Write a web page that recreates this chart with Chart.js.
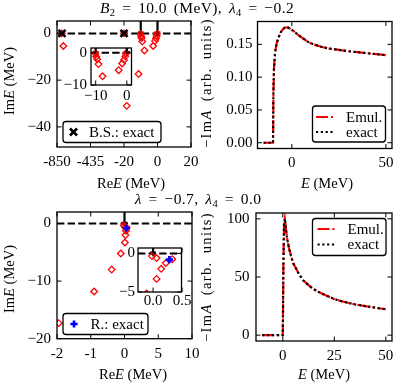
<!DOCTYPE html>
<html><head><meta charset="utf-8">
<script src="https://cdn.jsdelivr.net/npm/chart.js@4.4.1/dist/chart.umd.min.js"></script>
<style>
html,body{margin:0;padding:0;background:#fff;}
#fig{position:relative;width:396px;height:384px;overflow:hidden;font-family:"Liberation Serif",serif;color:#000;}
#fig canvas{position:absolute;left:0;top:0;}
.t{position:absolute;white-space:nowrap;font-size:14.5px;line-height:1;}
.ttl{font-size:15.5px;letter-spacing:0.4px;word-spacing:2.5px;}
.wide{letter-spacing:1.4px;word-spacing:3px;}
.rot{transform:translate(-50%,-50%) rotate(-90deg);}
.c{transform:translate(-50%,-50%);}
.sb{font-size:10.5px;position:relative;top:3px;}
</style></head><body>
<div id="fig">
<canvas id="cTL" width="396" height="384"></canvas>
<canvas id="cTLi" width="396" height="384"></canvas>
<canvas id="cTR" width="396" height="384"></canvas>
<canvas id="cBL" width="396" height="384"></canvas>
<canvas id="cBLi" width="396" height="384"></canvas>
<canvas id="cBR" width="396" height="384"></canvas>
<div class="t c ttl" style="left:197px;top:8px"><i>B</i><span class="sb">2</span> = 10.0 (MeV), <i>λ</i><span class="sb">4</span> = −0.2</div>
<div class="t c ttl" style="left:198px;top:199px"><i>λ</i> = −0.7, <i>λ</i><span class="sb">4</span> = 0.0</div>
<div class="t rot" style="left:9px;top:81px">Im<i>E</i> (MeV)</div>
<div class="t rot" style="left:9px;top:279px">Im<i>E</i> (MeV)</div>
<div class="t rot wide" style="left:206px;top:83px">−Im<i>A</i> (arb. units)</div>
<div class="t rot wide" style="left:206px;top:277px">−Im<i>A</i> (arb. units)</div>
<div class="t c" style="left:131px;top:183px">Re<i>E</i> (MeV)</div>
<div class="t c" style="left:133px;top:374px">Re<i>E</i> (MeV)</div>
<div class="t c" style="left:327px;top:183px"><i>E</i> (MeV)</div>
<div class="t c" style="left:324px;top:374px"><i>E</i> (MeV)</div>
</div>
<script>
// ---------------- DATA ----------------
// Top-left: complex energies (B2 = 10 MeV, lambda4 = -0.2)
const TL_EMUL_RE = [-790, -771, -20, -10.1, -9.8, -9.5, -9.1, -7.8, -11.3, -18.4, -0.3, -0.5, -0.9, -1.5, -2.6];
const TL_EMUL_IM = [0, -5.4, 0, -0.3, -1.2, -2.0, -3.5, -7.3, -17.4, -31.0, -0.2, -1.1, -2.2, -3.3, -5.4];
const TL_EXACT_RE = [-788, -20];
const TL_EXACT_IM = [0, 0];
const TL_THRESHOLDS = [-10, 0];
const TL_XTICKS = [-850, -435, -20, 0, 20];
const TL_XTICK_LABELS = ["-850", "-435", "-20", "0", "20"];
const TL_YTICKS = [0, -20, -40];
const TL_YRANGE = [-48.6, 5.3];
const TLI_XTICKS = [-10, 0];
const TLI_YTICKS = [0, -10];
const TLI_XRANGE = [-11.5, 1.5];
const TLI_YRANGE = [-10, 1.5];

// Top-right: spectral function
const TR_E = [-15, -12.5, -10.2, -10, -9.8, -9.5, -9, -8.5, -8, -7, -6, -5, -4, -3, -2, -1, 0, 1.5, 3, 5, 7, 9, 12, 16, 20, 25, 30, 35, 40, 45, 50];
const TR_EMUL = [0, 0, 0, 0, 0.075, 0.112, 0.134, 0.145, 0.152, 0.161, 0.168, 0.172, 0.175, 0.176, 0.1755, 0.174, 0.172, 0.169, 0.165, 0.161, 0.157, 0.153, 0.1495, 0.146, 0.1435, 0.1415, 0.1395, 0.138, 0.1365, 0.135, 0.1335];
const TR_EXACT = [0, 0, 0, 0, 0.075, 0.112, 0.134, 0.145, 0.152, 0.161, 0.168, 0.172, 0.175, 0.176, 0.1755, 0.174, 0.172, 0.169, 0.165, 0.161, 0.157, 0.153, 0.1495, 0.146, 0.1435, 0.1415, 0.1395, 0.138, 0.1365, 0.135, 0.1335];
const TR_XTICKS = [0, 50];
const TR_YTICKS = [0, 0.05, 0.10, 0.15];
const TR_XRANGE = [-18.25, 53.25];
const TR_YRANGE = [-0.0088, 0.1848];

// Bottom-left: complex energies (lambda = -0.7, lambda4 = 0.0)
const BL_EMUL_RE = [-0.02, 0.06, 0.33, 0.22, 0.14, 0.06, -0.11, -0.38, -0.9, -1.95];
const BL_EMUL_IM = [-0.35, -0.6, -0.75, -1.25, -2.0, -3.3, -5.2, -8.0, -11.8, -17.3];
const BL_EXACT_RE = [0.28];
const BL_EXACT_IM = [-0.8];
const BL_THRESHOLDS = [0];
const BL_XTICKS = [-2, -1, 0, 5, 10];
const BL_XTICK_LABELS = ["-2", "-1", "0", "5", "10"];
const BL_YTICKS = [0, -10, -20];
const BL_YRANGE = [-20, 2];
const BLI_XTICKS = [0, 0.5];
const BLI_YTICKS = [0, -5];
const BLI_XRANGE = [-0.26, 0.49];
const BLI_YRANGE = [-5, 0.7];

// Bottom-right: spectral function
const BR_E = [-10, -5, -1, 0, 0.3, 0.6, 1, 1.5, 2, 3, 4, 5, 6.5, 8, 10, 12.5, 15, 17.5, 20, 25, 30, 35, 40, 45, 50];
const BR_EMUL = [0, 0, 0, 0, 60, 95, 100, 92, 84, 75, 68, 62, 57, 52, 47, 43, 39.5, 37, 35, 31, 28.5, 26.5, 25, 23.6, 22.3];
const BR_EXACT = [0, 0, 0, 0, 60, 95, 100, 92, 84, 75, 68, 62, 57, 52, 47, 43, 39.5, 37, 35, 31, 28.5, 26.5, 25, 23.6, 22.3];
const BR_XTICKS = [0, 25, 50];
const BR_YTICKS = [0, 50, 100];
const BR_XRANGE = [-13, 53];
const BR_YRANGE = [-5, 105];

// ---------------- HELPERS ----------------
const FONT = {family: '"Liberation Serif", serif', size: 15};
const RED = '#ff0000';
function piecewise(ticks) {
  return x => {
    for (let i = 0; i < ticks.length - 1; i++) {
      if (x <= ticks[i + 1] || i === ticks.length - 2) return i + (x - ticks[i]) / (ticks[i + 1] - ticks[i]);
    }
  };
}
const fmtMinus = v => String(v).replace('-', '\u2212');
const pts = (xs, ys, fx) => xs.map((x, i) => ({x: fx ? fx(x) : x, y: ys[i]}));

const framePlugin = {
  id: 'frame',
  beforeDraw(chart, args, o) {
    if (o.fill) {
      const a = chart.chartArea, c = chart.ctx;
      c.save(); c.fillStyle = '#fff'; c.fillRect(a.left, a.top, a.right - a.left, a.bottom - a.top); c.restore();
    }
  },
  afterDraw(chart, args, o) {
    const c = chart.ctx, a = chart.chartArea, L = 4.5;
    const xs = chart.scales.x, ys = chart.scales.y;
    c.save();
    c.strokeStyle = '#000'; c.lineWidth = 1;
    c.beginPath();
    xs.ticks.forEach(t => { const p = xs.getPixelForValue(t.value); c.moveTo(p, a.bottom); c.lineTo(p, a.bottom - L); c.moveTo(p, a.top); c.lineTo(p, a.top + L); });
    ys.ticks.forEach(t => { const p = ys.getPixelForValue(t.value); c.moveTo(a.left, p); c.lineTo(a.left + L, p); c.moveTo(a.right, p); c.lineTo(a.right - L, p); });
    c.stroke();
    c.lineWidth = 1.3;
    c.strokeRect(a.left, a.top, a.right - a.left, a.bottom - a.top);
    const lg = o.legend;
    if (lg) {
      const [x0, y0, x1, y1] = lg.box, r = 3;
      c.beginPath();
      c.moveTo(x0 + r, y0); c.lineTo(x1 - r, y0); c.arcTo(x1, y0, x1, y0 + r, r);
      c.lineTo(x1, y1 - r); c.arcTo(x1, y1, x1 - r, y1, r);
      c.lineTo(x0 + r, y1); c.arcTo(x0, y1, x0, y1 - r, r);
      c.lineTo(x0, y0 + r); c.arcTo(x0, y0, x0 + r, y0, r); c.closePath();
      c.fillStyle = 'rgba(255,255,255,0.85)'; c.fill();
      c.lineWidth = 1.3; c.strokeStyle = '#000'; c.stroke();
      lg.items.forEach(it => {
        const ds = chart.data.datasets[it.ds];
        if (it.kind === 'line') {
          c.save(); c.strokeStyle = ds.borderColor; c.lineWidth = ds.borderWidth; c.setLineDash(ds.borderDash || []);
          c.beginPath(); c.moveTo(lg.sx[0], it.y); c.lineTo(lg.sx[1], it.y); c.stroke(); c.restore();
        } else {
          c.save(); c.strokeStyle = ds.borderColor; c.fillStyle = ds.backgroundColor; c.lineWidth = ds.borderWidth;
          Chart.helpers.drawPoint(c, {pointStyle: ds.pointStyle, radius: ds.pointRadius, borderWidth: ds.borderWidth, rotation: 0}, it.px, it.y); c.restore();
        }
        c.fillStyle = '#000'; c.font = FONT.size + 'px ' + FONT.family; c.textBaseline = 'middle'; c.textAlign = 'left';
        c.fillText(ds.label, lg.tx, it.y + 1);
      });
    }
    c.restore();
  }
};

// size = room given to the axis box (tick labels are clipped to it)
function ax(range, ticks, labelFn, pad, horizontal, size) {
  return {
    type: 'linear', min: range[0], max: range[1], _size: size,
    afterBuildTicks: s => { s.ticks = ticks.map(v => ({value: v})); },
    afterFit: s => { if (horizontal) { s.height = size; s.paddingLeft = 0; s.paddingRight = 0; } else { s.width = size; s.paddingTop = 0; s.paddingBottom = 0; } },
    ticks: {callback: (v, i) => labelFn(v, i), font: FONT, color: '#000', padding: pad, maxRotation: 0, autoSkip: false},
    grid: {display: false, drawTicks: false},
    border: {display: false}
  };
}

function makeChart(id, frame, xAxis, yAxis, datasets, frameOpts) {
  const xs = xAxis._size, ys = yAxis._size;
  return new Chart(document.getElementById(id), {
    type: 'scatter',
    data: {datasets},
    options: {
      responsive: false, animation: false, devicePixelRatio: 1, events: [],
      layout: {padding: {left: frame[0] - ys, top: frame[1], right: 396 - frame[2], bottom: 384 - frame[3] - xs}},
      plugins: {legend: {display: false}, tooltip: {enabled: false}, frame: frameOpts || {}},
      scales: {x: xAxis, y: yAxis}
    },
    plugins: [framePlugin]
  });
}

function zeroLine(xmin, xmax) {
  return {label: 'zero', data: [{x: xmin, y: 0}, {x: xmax, y: 0}], showLine: true, borderColor: '#000', borderWidth: 2, borderDash: [7.4, 3.2], pointRadius: 0, order: 6, clip: 0};
}
function arrows(xs, ytop) {
  return xs.map(x => ({label: 'threshold', data: [{x: x, y: ytop}, {x: x, y: 0}], showLine: true, borderColor: '#000', borderWidth: 2.2, pointRadius: [0, 3.2], pointStyle: 'triangle', rotation: 180, pointBackgroundColor: '#000', pointBorderColor: '#000', pointBorderWidth: 0.5, order: 5, clip: 0}));
}
function diamonds(data) {
  return {label: 'Emul.', data, pointStyle: 'rectRot', pointRadius: 3.3, borderWidth: 1.3, borderColor: RED, backgroundColor: 'rgba(0,0,0,0)', order: 3, clip: 0};
}

// ---------------- TOP-LEFT ----------------
const tlMap = piecewise(TL_XTICKS);
const tlU = [tlMap(TL_XTICKS[0]), tlMap(TL_XTICKS[TL_XTICKS.length - 1])];
const tlExact = {label: 'B.S.: exact', data: pts(TL_EXACT_RE, TL_EXACT_IM, tlMap), pointStyle: 'crossRot', pointRadius: 5, borderWidth: 2.6, borderColor: '#000', backgroundColor: '#000', order: 1, clip: 0};
makeChart('cTL', [57, 21, 191, 147],
  ax(tlU, TL_XTICKS.map(tlMap), (v, i) => TL_XTICK_LABELS[i], 6, true, 26),
  ax(TL_YRANGE, TL_YTICKS, v => fmtMinus(v), 6, false, 40),
  [zeroLine(tlU[0], tlU[1]), ...arrows(TL_THRESHOLDS.map(tlMap), TL_YRANGE[1]), diamonds(pts(TL_EMUL_RE, TL_EMUL_IM, tlMap)), tlExact],
  {legend: {box: [63, 121.5, 161, 142.5], sx: [0, 0], tx: 89, items: [{kind: 'point', ds: 4, px: 73.5, y: 132}]}});

makeChart('cTLi', [91, 48, 131.5, 85],
  ax(TLI_XRANGE, TLI_XTICKS, v => fmtMinus(v), 2, true, 20),
  ax(TLI_YRANGE, TLI_YTICKS, v => fmtMinus(v), 4, false, 30),
  [zeroLine(TLI_XRANGE[0], TLI_XRANGE[1]), ...arrows(TL_THRESHOLDS, TLI_YRANGE[1]), diamonds(pts(TL_EMUL_RE, TL_EMUL_IM)), Object.assign({}, tlExact, {data: pts(TL_EXACT_RE, TL_EXACT_IM)})],
  {fill: true});

// ---------------- TOP-RIGHT ----------------
const emulLine = (d) => ({label: 'Emul.', data: d, showLine: true, borderColor: RED, borderWidth: 2.2, borderDash: [12, 3, 2.2, 3], pointRadius: 0, order: 2, clip: 0});
const exactLine = (d) => ({label: 'exact', data: d, showLine: true, borderColor: '#000', borderWidth: 2.2, borderDash: [2.2, 2.6], pointRadius: 0, order: 1, clip: 0});
makeChart('cTR', [257.5, 21.5, 392, 148.5],
  ax(TR_XRANGE, TR_XTICKS, v => String(v), 6, true, 26),
  ax(TR_YRANGE, TR_YTICKS, v => v.toFixed(2), 5, false, 45),
  [emulLine(pts(TR_E, TR_EMUL)), exactLine(pts(TR_E, TR_EXACT))],
  {legend: {box: [312.5, 106, 385.5, 142], sx: [316, 333], tx: 346, items: [{kind: 'line', ds: 0, y: 117}, {kind: 'line', ds: 1, y: 132}]}});

// ---------------- BOTTOM-LEFT ----------------
const blMap = piecewise(BL_XTICKS);
const blU = [blMap(BL_XTICKS[0]), blMap(BL_XTICKS[BL_XTICKS.length - 1])];
const blExact = {label: 'R.: exact', data: pts(BL_EXACT_RE, BL_EXACT_IM, blMap), pointStyle: 'cross', pointRadius: 3.6, borderWidth: 2.6, borderColor: '#0000ff', backgroundColor: '#0000ff', order: 1, clip: 0};
makeChart('cBL', [57, 212, 192, 338.7],
  ax(blU, BL_XTICKS.map(blMap), (v, i) => BL_XTICK_LABELS[i], 6, true, 26),
  ax(BL_YRANGE, BL_YTICKS, v => fmtMinus(v), 6, false, 40),
  [zeroLine(blU[0], blU[1]), ...arrows(BL_THRESHOLDS.map(blMap), BL_YRANGE[1]), diamonds(pts(BL_EMUL_RE, BL_EMUL_IM, blMap)), blExact],
  {legend: {box: [63, 313.5, 148, 334.5], sx: [0, 0], tx: 90.5, items: [{kind: 'point', ds: 3, px: 74, y: 324}]}});

makeChart('cBLi', [138, 248, 181.5, 292],
  ax(BLI_XRANGE, BLI_XTICKS, v => v.toFixed(1), 0, true, 18),
  ax(BLI_YRANGE, BLI_YTICKS, v => fmtMinus(v), 3, false, 30),
  [zeroLine(BLI_XRANGE[0], BLI_XRANGE[1]), ...arrows(BL_THRESHOLDS, BLI_YRANGE[1]), diamonds(pts(BL_EMUL_RE, BL_EMUL_IM)), Object.assign({}, blExact, {data: pts(BL_EXACT_RE, BL_EXACT_IM)})],
  {fill: true});

// ---------------- BOTTOM-RIGHT ----------------
makeChart('cBR', [256, 213, 392, 341],
  ax(BR_XRANGE, BR_XTICKS, v => String(v), 6, true, 26),
  ax(BR_YRANGE, BR_YTICKS, v => String(v), 6.5, false, 40),
  [emulLine(pts(BR_E, BR_EMUL)), exactLine(pts(BR_E, BR_EXACT))],
  {legend: {box: [312.5, 218.5, 386, 255.5], sx: [317.5, 334.5], tx: 347.5, items: [{kind: 'line', ds: 0, y: 229}, {kind: 'line', ds: 1, y: 244.5}]}});
</script>
</body></html>
